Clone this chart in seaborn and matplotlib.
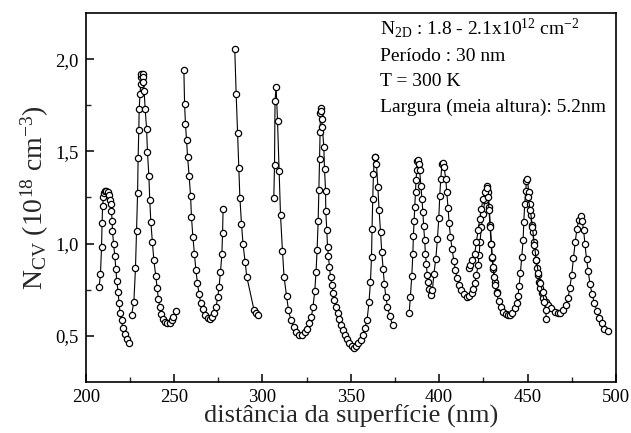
import numpy as np
import pandas as pd
import matplotlib
matplotlib.use("Agg")
import matplotlib.pyplot as plt
import seaborn as sns
from matplotlib.ticker import FixedLocator, FixedFormatter

# ---------------- data ----------------
seg1_x = [207.5, 208.3, 208.9, 209.2, 209.5, 210.0, 210.4, 210.9, 211.7, 212.5, 213.2, 213.8, 214.1, 214.5,
          214.9, 215.1, 215.7, 216.4, 217.0, 217.5, 218.3, 218.8, 219.4, 220.2, 220.9, 221.9, 223.4, 224.5]
seg1_y = [0.763, 0.835, 0.982, 1.111, 1.202, 1.252, 1.273, 1.284, 1.284, 1.277, 1.261, 1.238, 1.212, 1.175,
          1.124, 1.067, 1.0, 0.932, 0.863, 0.797, 0.737, 0.676, 0.626, 0.583, 0.542, 0.509, 0.484, 0.461]

seg2_x = [225.9, 227.2, 228.1, 228.7, 229.3, 229.6, 230.0, 230.2, 230.7, 231.1, 231.3, 231.5, 232.1, 232.4,
          232.6, 233.0, 233.6, 234.4, 234.9, 235.7, 236.2, 236.8, 237.7, 238.5, 239.6, 240.4, 241.1, 241.9,
          242.6, 243.7, 244.9, 246.0, 247.5, 248.7, 249.6, 250.9]
seg2_y = [0.613, 0.685, 0.865, 1.067, 1.273, 1.464, 1.615, 1.729, 1.813, 1.867, 1.903, 1.921, 1.921, 1.903,
          1.878, 1.828, 1.729, 1.621, 1.495, 1.365, 1.234, 1.117, 1.006, 0.91, 0.824, 0.757, 0.698, 0.655,
          0.619, 0.592, 0.574, 0.569, 0.572, 0.586, 0.604, 0.635]

seg3_x = [255.5, 255.9, 256.4, 257.0, 257.6, 258.5, 259.3, 259.8, 260.6, 261.5, 262.3, 263.2, 264.1, 265.1,
          266.4, 267.5, 268.9, 270.2, 271.5, 272.6, 273.7, 274.7, 275.4, 276.2, 277.0, 277.4, 277.7]
seg3_y = [1.939, 1.756, 1.648, 1.562, 1.468, 1.365, 1.256, 1.144, 1.036, 0.941, 0.856, 0.784, 0.725, 0.676,
          0.644, 0.613, 0.596, 0.59, 0.604, 0.626, 0.658, 0.709, 0.766, 0.844, 0.941, 1.057, 1.189]

seg4_x = [284.3, 285.1, 285.9, 286.6, 287.2, 288.1, 289.0, 290.2, 291.1, 295.2, 296.4, 297.5]
seg4_y = [2.053, 1.81, 1.597, 1.41, 1.248, 1.108, 0.995, 0.898, 0.82, 0.64, 0.626, 0.612]

seg5_x = [306.4, 306.8, 307.1, 307.7, 308.5, 309.4, 310.2, 311.3, 312.2, 313.6,
          314.7, 316.0, 317.7, 319.2, 320.7, 322.2, 323.8, 325.2, 326.6, 327.7,
          328.6, 329.6, 330.3, 330.9, 331.5, 331.9, 332.3, 332.6, 332.8, 333.0,
          333.2, 333.4, 333.9, 334.7, 335.1, 335.7, 335.8, 336.4, 336.8, 337.3,
          337.9, 338.5, 339.2, 340.0, 340.7, 341.6, 342.6, 343.5, 344.5, 345.6,
          346.7, 347.9, 349.0, 350.4, 351.7, 352.8, 354.1, 355.5, 356.8, 357.9,
          359.2, 360.3, 361.1, 361.7, 362.0, 362.4, 362.8, 363.4, 363.9, 364.5,
          365.3, 366.0, 366.8, 367.5, 368.3, 369.0, 369.8, 370.7, 372.0, 373.6]
seg5_y = [1.248, 1.427, 1.774, 1.851, 1.666, 1.396, 1.153, 0.96, 0.82, 0.716,
          0.64, 0.586, 0.547, 0.518, 0.505, 0.505, 0.518, 0.536, 0.569, 0.604,
          0.658, 0.744, 0.847, 0.964, 1.121, 1.288, 1.459, 1.606, 1.71, 1.737,
          1.72, 1.675, 1.63, 1.522, 1.405, 1.284, 1.176, 1.072, 0.982, 0.933,
          0.874, 0.82, 0.775, 0.734, 0.694, 0.658, 0.622, 0.59, 0.559, 0.532,
          0.505, 0.482, 0.461, 0.442, 0.434, 0.442, 0.461, 0.478, 0.505, 0.542,
          0.586, 0.685, 0.793, 0.925, 1.081, 1.239, 1.378, 1.468, 1.471, 1.432,
          1.306, 1.18, 1.063, 0.955, 0.86, 0.779, 0.712, 0.658, 0.608, 0.559]

seg6_x = [383.0, 383.7, 384.5, 385.1, 385.4, 385.8, 386.2, 386.6, 386.9, 387.3,
          387.7, 388.2, 388.6, 388.9, 389.7, 390.2, 390.8, 391.2, 391.8, 392.2,
          392.8, 393.2, 393.8, 394.5, 395.3, 396.2, 397.0, 398.1, 399.0, 399.8,
          400.3, 400.9, 401.6, 402.2, 402.8, 403.7, 404.3, 405.0, 405.6, 406.4,
          407.3, 408.3, 409.2, 410.1, 411.3, 412.6, 414.1, 415.8, 416.9, 418.3,
          419.2, 420.1, 421.1, 422.0, 422.6, 423.1, 423.9, 424.8, 425.8, 426.8,
          427.3, 427.8, 428.3, 428.9, 429.5, 430.1, 430.7, 431.5, 432.5, 433.6,
          434.8, 436.2, 437.6, 439.0, 440.0, 441.5, 442.8, 443.8, 444.6, 445.2,
          446.0, 446.7, 447.5, 447.9, 448.4, 449.0, 449.4, 449.9, 450.7, 451.3,
          451.8, 452.4, 453.0, 453.5, 454.1, 454.7, 455.2, 455.8, 456.4, 457.1,
          458.1, 459.0, 460.2, 461.6, 463.5, 465.4, 467.3, 468.6, 470.1, 471.6,
          472.9, 473.9, 475.0, 476.0, 477.0, 478.0, 479.0, 480.0, 481.0, 481.7,
          482.5, 483.4, 484.4, 485.3, 486.5, 487.8, 489.3, 490.6, 492.1, 493.5,
          495.4]
seg6_y = [0.622, 0.712, 0.824, 0.946, 1.040, 1.121, 1.198, 1.279, 1.346, 1.400,
          1.450, 1.455, 1.432, 1.400, 1.310, 1.244, 1.169, 1.094, 1.018, 0.943,
          0.887, 0.830, 0.793, 0.755, 0.720, 0.750, 0.835, 0.919, 1.023, 1.140,
          1.256, 1.351, 1.432, 1.437, 1.414, 1.351, 1.279, 1.195, 1.114, 1.036,
          0.970, 0.906, 0.856, 0.811, 0.775, 0.748, 0.727, 0.712, 0.716, 0.730,
          0.754, 0.784, 0.829, 0.883, 0.937, 1.009, 1.090, 1.162, 1.234, 1.288,
          1.310, 1.280, 1.200, 1.100, 1.000, 0.920, 0.860, 0.790, 0.735, 0.690,
          0.655, 0.631, 0.618, 0.613, 0.613, 0.626, 0.649, 0.676, 0.716, 0.770,
          0.842, 0.925, 1.018, 1.117, 1.212, 1.284, 1.338, 1.351, 1.279, 1.216,
          1.153, 1.099, 1.063, 1.009, 0.955, 0.910, 0.865, 0.829, 0.793, 0.757,
          0.730, 0.703, 0.685, 0.667, 0.649, 0.631, 0.622, 0.626, 0.640, 0.667,
          0.703, 0.757, 0.830, 0.920, 1.010, 1.080, 1.130, 1.150, 1.120, 1.075,
          1.000, 0.915, 0.849, 0.783, 0.727, 0.680, 0.633, 0.595, 0.567, 0.539,
          0.524]

seg7_x = [416.7, 417.7, 418.8, 420.1, 421.1, 422.0, 423.0, 423.9, 424.8, 425.8,
          426.8, 427.7, 428.2, 428.8, 429.4, 429.9, 430.5, 431.1, 431.8, 432.7]
seg7_y = [0.869, 0.883, 0.910, 0.946, 1.009, 1.072, 1.135, 1.189, 1.243, 1.279,
          1.302, 1.252, 1.180, 1.090, 1.000, 0.928, 0.874, 0.820, 0.775, 0.730]

seg8_x = [450.3, 451.6, 452.8, 453.9, 455.0, 456.2, 457.3, 458.5, 459.4, 460.2, 460.7]
seg8_y = [1.252, 1.180, 1.090, 0.991, 0.910, 0.838, 0.784, 0.739, 0.685, 0.640, 0.590]

x_ticks = [200, 250, 300, 350, 400, 450, 500]
x_minor = [225, 275, 325, 375, 425, 475]
y_ticks = [0.5, 1.0, 1.5, 2.0]
y_ticklabels = ["0,5", "1,0", "1,5", "2,0"]
y_minor = [0.75, 1.25, 1.75]

info_lines = [r"N$_{\mathregular{2D}}$ : 1.8 - 2.1x10$^{\mathregular{12}}$ cm$^{\mathregular{-2}}$",
              "Período : 30 nm",
              "T = 300 K",
              "Largura (meia altura): 5.2nm"]

segments = [(seg1_x, seg1_y), (seg2_x, seg2_y), (seg3_x, seg3_y), (seg4_x, seg4_y),
            (seg5_x, seg5_y), (seg6_x, seg6_y), (seg7_x, seg7_y), (seg8_x, seg8_y)]
frames = []
for i, (sx, sy) in enumerate(segments):
    assert len(sx) == len(sy), i
    frames.append(pd.DataFrame({"x": sx, "y": sy, "seg": i}))
df = pd.concat(frames, ignore_index=True)

# ---------------- plot ----------------
sns.set_theme(style="white")
plt.rcParams["font.family"] = ["Liberation Serif", "DejaVu Serif"]
plt.rcParams["mathtext.fontset"] = "custom"
plt.rcParams["mathtext.rm"] = "Liberation Serif"
plt.rcParams["mathtext.it"] = "Liberation Serif:italic"
plt.rcParams["mathtext.bf"] = "Liberation Serif:bold"

fig = plt.figure(figsize=(6.31, 4.33), dpi=100)
ax = fig.add_axes([0.136, 0.118, 0.840, 0.852])

sns.lineplot(data=df, x="x", y="y", units="seg", estimator=None, sort=False,
             color="black", linewidth=0.8, marker="o", markersize=4.5,
             markerfacecolor="white", markeredgecolor="black", markeredgewidth=0.9,
             ax=ax, legend=False)

ax.set_xlim(200, 500)
ax.set_ylim(0.25, 2.25)
ax.xaxis.set_major_locator(FixedLocator(x_ticks))
ax.xaxis.set_minor_locator(FixedLocator(x_minor))
ax.yaxis.set_major_locator(FixedLocator(y_ticks))
ax.yaxis.set_major_formatter(FixedFormatter(y_ticklabels))
ax.yaxis.set_minor_locator(FixedLocator(y_minor))
ax.tick_params(axis="both", which="major", direction="in", length=6, width=1.1,
               labelsize=13.5, colors="black", pad=5, bottom=True, left=True)
ax.tick_params(axis="both", which="minor", direction="in", length=3.5, width=1.0,
               bottom=True, left=True)

for s in ax.spines.values():
    s.set_color("black")
    s.set_linewidth(1.2)

ax.set_xlabel("distância da superfície (nm)", fontsize=19, labelpad=-1)
ax.set_ylabel(r"N$_{\mathregular{CV}}$ (10$^{\mathregular{18}}$ cm$^{\mathregular{-3}}$)", fontsize=20, labelpad=3)

ys = [0.959, 0.881, 0.813, 0.745]
for t, yy in zip(info_lines, ys):
    ax.text(0.555, yy, t, transform=ax.transAxes, fontsize=14, va="center", ha="left",
            color="black")

fig.savefig("out.png", dpi=100, facecolor="white")
